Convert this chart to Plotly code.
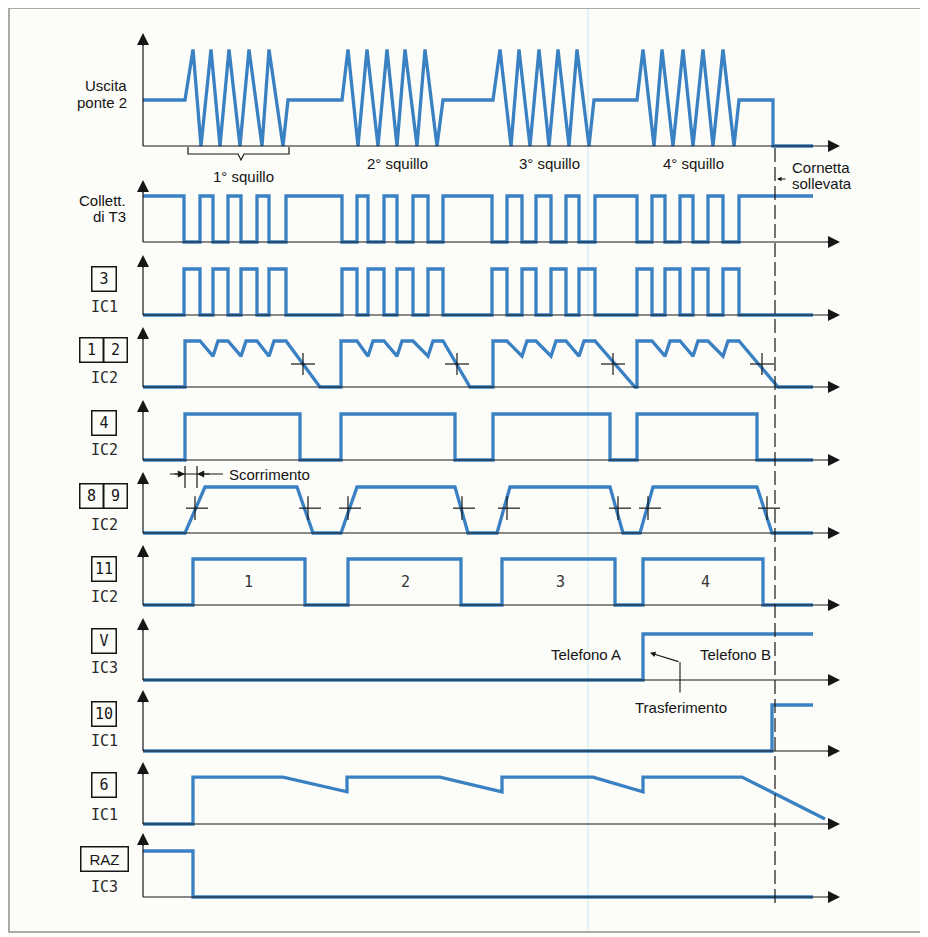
import plotly.graph_objects as go

# The page body adds an 8px margin, so the figure is drawn 8px smaller and all
# layout positions below are given in window pixels and shifted back by OX/OY.
OX, OY = 8, 8
W, H = 920, 929
S = 46.0            # pixels per signal level unit
BLUE = '#3a81c3'
INK = '#161616'
TXT = '#141414'
SANS = 'Liberation Sans, Arial, sans-serif'
MONO = 'DejaVu Sans Mono, monospace'

# ------------------------------------------------------------------ data
# time axis in arbitrary units (t), signal levels in units of the logic amplitude
ponte_t = [0,
           42, 50, 58, 68, 77, 86, 97, 106, 119, 126, 140, 145,
           199, 205, 215, 224, 235, 244, 254, 262, 274, 282, 294, 300,
           350, 357, 368, 376, 387, 396, 406, 415, 426, 434, 446, 451,
           494, 500, 511, 519, 530, 540, 550, 560, 570, 580, 591, 596,
           630, 630, 670]
ponte_v = [1,
           1, 2.1, 0, 2.1, 0, 2.1, 0, 2.1, 0, 2.1, 0, 1,
           1, 2.1, 0, 2.1, 0, 2.1, 0, 2.1, 0, 2.1, 0, 1,
           1, 2.1, 0, 2.1, 0, 2.1, 0, 2.1, 0, 2.1, 0, 1,
           1, 2.1, 0, 2.1, 0, 2.1, 0, 2.1, 0, 2.1, 0, 1,
           1, 0, 0]

# pin 3 IC1 pulses (collector of T3 is the complement)
pulse_on = [41, 70, 98, 126, 199, 225, 254, 285, 349, 379, 408, 436, 494, 522, 550, 580]
pulse_off = [57, 85, 114, 143, 214, 241, 270, 300, 364, 393, 423, 452, 509, 537, 565, 596]
t_end = 670

# pins 1-2 IC2 (capacitor voltage)
ic2_12_t = [0, 42, 42, 57, 70, 75, 85, 98, 103, 114, 126, 131, 143, 177,
            198, 198, 214, 225, 230, 241, 254, 259, 270, 285, 290, 300, 327,
            350, 350, 364, 379, 384, 393, 408, 413, 423, 436, 441, 452, 492,
            494, 494, 509, 522, 527, 537, 550, 555, 565, 580, 585, 596, 635, 670]
ic2_12_v = [0, 0, 1, 1, 0.67, 1, 1, 0.67, 1, 1, 0.67, 1, 1, 0,
            0, 1, 1, 0.67, 1, 1, 0.67, 1, 1, 0.67, 1, 1, 0,
            0, 1, 1, 0.67, 1, 1, 0.67, 1, 1, 0.67, 1, 1, 0,
            0, 1, 1, 0.67, 1, 1, 0.67, 1, 1, 0.67, 1, 1, 0, 0]
cross_12_t = [160, 314, 470, 619]
cross_12_v = 0.5

# pin 4 IC2
ic2_4_on = [42, 198, 350, 494]
ic2_4_off = [157, 312, 467, 614]

# pins 8-9 IC2
ic2_89_t = [0, 42, 62, 154, 170, 198, 214, 312, 325, 354, 367, 467, 480, 497, 510, 614, 629, 670]
ic2_89_v = [0, 0, 1, 1, 0, 0, 1, 1, 0, 0, 1, 1, 0, 0, 1, 1, 0, 0]
cross_89_t = [52, 165, 205, 319, 364, 475, 505, 624]
cross_89_v = 0.54

# pin 11 IC2
ic2_11_on = [50, 205, 359, 500]
ic2_11_off = [162, 318, 472, 620]
ring_numbers = ['1', '2', '3', '4']
ring_number_t = [105, 262, 417, 562]

# pin V IC3
ic3_v_t = [0, 500, 500, 670]
ic3_v_v = [0, 0, 1, 1]

# pin 10 IC1
ic1_10_t = [0, 629, 629, 670]
ic1_10_v = [0, 0, 1, 1]

# pin 6 IC1
ic1_6_t = [0, 50, 50, 140, 204, 204, 297, 359, 359, 450, 500, 500, 599, 682]
ic1_6_v = [0, 0, 1.02, 1.02, 0.70, 1.02, 1.02, 0.70, 1.02, 1.02, 0.70, 1.02, 1.02, 0.11]

# RAZ IC3
ic3_raz_t = [0, 50, 50, 670]
ic3_raz_v = [1, 1, 0, 0]

squillo_text = ['1° squillo', '2° squillo', '3° squillo', '4° squillo']
squillo_t = [100, 254, 406, 550]
t_hook = 632          # handset lifted
t_transfer = 500


# ------------------------------------------------------------------ helpers
def pulses(on, off, end, start_level):
    t, v = [0], [start_level]
    hi, lo = (1, 0) if start_level == 0 else (0, 1)
    for a, b in zip(on, off):
        t += [a, a, b, b]
        v += [lo, hi, hi, lo]
    t.append(end)
    v.append(v[-1])
    return t, v


t3, v3 = pulses(pulse_on, pulse_off, t_end, 0)
t2, v2 = pulses(pulse_on, pulse_off, t_end, 1)
t4, v4 = pulses(ic2_4_on, ic2_4_off, t_end, 0)
t11, v11 = pulses(ic2_11_on, ic2_11_off, t_end, 0)

# layout geometry: (baseline px, arrow tip px) in window pixels
ROWS = [(146, 33), (242, 180), (315, 255), (387, 327), (460, 400), (533, 472),
        (605, 545), (680, 618), (751, 690), (824, 762), (897, 833)]
signals = [(ponte_t, ponte_v), (t2, v2), (t3, v3), (ic2_12_t, ic2_12_v), (t4, v4),
           (ic2_89_t, ic2_89_v), (t11, v11), (ic3_v_t, ic3_v_v), (ic1_10_t, ic1_10_v),
           (ic1_6_t, ic1_6_v), (ic3_raz_t, ic3_raz_v)]

X0PX = 143            # window px of t = 0
XTIP = 697            # axis arrow tip (t)


def px(p):
    return (p - OX) / W


def py(p):
    return 1 - (p - OY) / H


def yid(i):
    return 'y' if i == 0 else f'y{i+1}'


fig = go.Figure()
layout = dict(
    width=W, height=H, autosize=False,
    margin=dict(l=0, r=0, t=0, b=0),
    paper_bgcolor='#fcfcf9', plot_bgcolor='rgba(0,0,0,0)',
    showlegend=False, hovermode=False,
    xaxis=dict(domain=[px(X0PX - 10), px(X0PX + 705)], range=[-10, 705],
               visible=False, fixedrange=True),
)
for i, (yb, yt) in enumerate(ROWS):
    bot, top = yb + 16, yt - 8
    key = 'yaxis' if i == 0 else f'yaxis{i+1}'
    layout[key] = dict(domain=[py(bot), py(top)], range=[-(bot - yb) / S, (yb - top) / S],
                       visible=False, anchor='x', fixedrange=True)

shapes = []
annotations = []

# frame and faint scan crease
shapes.append(dict(type='rect', xref='paper', yref='paper', x0=px(9), x1=px(924),
                   y0=py(932), y1=py(8), line=dict(color='#8e8e8e', width=1.5), layer='below'))
shapes.append(dict(type='line', xref='paper', yref='paper', x0=px(588), x1=px(588),
                   y0=py(9), y1=py(931), line=dict(color='rgba(160,215,235,0.55)', width=1),
                   layer='below'))

# axes with arrows
for i, (yb, yt) in enumerate(ROWS):
    y = yid(i)
    tip = (yb - yt) / S
    shapes.append(dict(type='line', xref='x', yref=y, x0=0, x1=XTIP - 4, y0=0, y1=0,
                       line=dict(color=INK, width=1.2)))
    shapes.append(dict(type='line', xref='x', yref=y, x0=0, x1=0, y0=0, y1=tip - 0.1,
                       line=dict(color=INK, width=1.2)))
    annotations.append(dict(x=XTIP, y=0, xref='x', yref=y, axref='pixel', ayref='pixel',
                            ax=-14, ay=0, text='', showarrow=True, arrowhead=2,
                            arrowsize=2.0, arrowwidth=1.2, arrowcolor=INK))
    annotations.append(dict(x=0, y=tip, xref='x', yref=y, axref='pixel', ayref='pixel',
                            ax=0, ay=14, text='', showarrow=True, arrowhead=2,
                            arrowsize=2.0, arrowwidth=1.2, arrowcolor=INK))

# signals
for i, (t, v) in enumerate(signals):
    fig.add_trace(go.Scatter(x=t, y=v, xaxis='x', yaxis=yid(i), mode='lines',
                             line=dict(color=BLUE, width=3.3), hoverinfo='skip'))

# crosses (threshold marks)
for tc in cross_12_t:
    shapes.append(dict(type='line', xref='x', yref='y4', x0=tc - 12, x1=tc + 12,
                       y0=cross_12_v, y1=cross_12_v, line=dict(color=INK, width=1.2)))
    shapes.append(dict(type='line', xref='x', yref='y4', x0=tc, x1=tc,
                       y0=cross_12_v - 0.24, y1=cross_12_v + 0.24, line=dict(color=INK, width=1.2)))
for tc in cross_89_t:
    shapes.append(dict(type='line', xref='x', yref='y6', x0=tc - 9, x1=tc + 13,
                       y0=cross_89_v, y1=cross_89_v, line=dict(color=INK, width=1.2)))
    shapes.append(dict(type='line', xref='x', yref='y6', x0=tc, x1=tc,
                       y0=cross_89_v - 0.26, y1=cross_89_v + 0.26, line=dict(color=INK, width=1.2)))

# dashed line: handset lifted
shapes.append(dict(type='line', xref='x', yref='paper', x0=t_hook, x1=t_hook,
                   y0=py(148), y1=py(905), line=dict(color=INK, width=1.2, dash='14px,5px')))

# bracket under first ring
b0, b1, bm = 45, 146, 98
path = (f'M {b0},{py(147)} L {b0},{py(154)} L {bm-3},{py(154)} L {bm},{py(160)} '
        f'L {bm+3},{py(154)} L {b1},{py(154)} L {b1},{py(147)}')
shapes.append(dict(type='path', xref='x', yref='paper', path=path,
                   line=dict(color=INK, width=1.2)))

# Scorrimento marker
for tk in (42, 54):
    shapes.append(dict(type='line', xref='x', yref='paper', x0=tk, x1=tk,
                       y0=py(466), y1=py(488), line=dict(color=INK, width=1.2)))
shapes.append(dict(type='line', xref='x', yref='paper', x0=27, x1=80,
                   y0=py(474), y1=py(474), line=dict(color=INK, width=1.2)))
annotations.append(dict(x=42, y=py(474), xref='x', yref='paper', ax=-12, ay=0,
                        text='', showarrow=True, arrowhead=2, arrowsize=1.2,
                        arrowwidth=1.2, arrowcolor=INK))
annotations.append(dict(x=54, y=py(474), xref='x', yref='paper', ax=14, ay=0,
                        text='', showarrow=True, arrowhead=2, arrowsize=1.2,
                        arrowwidth=1.2, arrowcolor=INK))


def txt(x, y, s, xref='x', size=15, font=SANS, xanchor='center', color=TXT, **kw):
    annotations.append(dict(x=x, y=y, xref=xref, yref='paper', text=s, showarrow=False,
                            xanchor=xanchor, yanchor='middle',
                            font=dict(family=font, size=size, color=color), **kw))


txt(84, py(474), 'Scorrimento', xanchor='left')

# ring labels
for s, tq, yp in zip(squillo_text, squillo_t, [176, 163, 163, 163]):
    txt(tq, py(yp), s)

# Cornetta sollevata
annotations.append(dict(x=t_hook + 2, y=py(179), xref='x', yref='paper', ax=10, ay=0,
                        text='', showarrow=True, arrowhead=2, arrowsize=0.9,
                        arrowwidth=1, arrowcolor=INK))
txt(t_hook + 15, py(167), 'Cornetta', xanchor='left')
txt(t_hook + 15, py(184), 'sollevata', xanchor='left')

# numbers inside pin 11 pulses
for s, tq in zip(ring_numbers, ring_number_t):
    txt(tq, py(582), s, font=MONO, color='#333333')

# Telefono A / B and Trasferimento
txt(443, py(654), 'Telefono A')
txt(592, py(654), 'Telefono B')
txt(538, py(707), 'Trasferimento')
annotations.append(dict(x=t_transfer + 7, y=0.59, xref='x', yref='y8', axref='x', ayref='y8',
                        ax=537, ay=0.39, text='', showarrow=True, arrowhead=2,
                        arrowsize=1.0, arrowwidth=1.1, arrowcolor=INK))
shapes.append(dict(type='line', xref='x', yref='y8', x0=537, x1=537, y0=0.39, y1=-0.27,
                   line=dict(color=INK, width=1.1)))

# left labels
txt(px(129), py(85), 'Uscita', xref='paper', xanchor='right')
txt(px(129), py(102), 'ponte 2', xref='paper', xanchor='right')
txt(px(128), py(200), 'Collett.', xref='paper', xanchor='right')
txt(px(128), py(216), 'di T3', xref='paper', xanchor='right')


def box(xc, yc, s, w=21, font=MONO, size=15):
    annotations.append(dict(x=px(xc), y=py(yc), xref='paper', yref='paper', text=s,
                            showarrow=False, xanchor='center', yanchor='middle',
                            width=w, height=21, borderpad=1, bordercolor=INK, borderwidth=1.5,
                            font=dict(family=font, size=size, color=INK)))


pins = [  # (box entries, chip label, box center y, chip label y)
    ([(104, '3')], 'IC1', 279, 307),
    ([(91, '1'), (115, '2')], 'IC2', 350, 378),
    ([(104, '4')], 'IC2', 423, 450),
    ([(91, '8'), (115, '9')], 'IC2', 496, 525),
    ([(104, '11')], 'IC2', 569, 597),
    ([(104, 'V')], 'IC3', 641, 668),
    ([(104, '10')], 'IC1', 714, 741),
    ([(104, '6')], 'IC1', 785, 815),
]
for boxes, chip, yb_, yc_ in pins:
    for xc, s in boxes:
        box(xc, yb_, s, w=20 if len(boxes) == 2 else 21)
    txt(px(104), py(yc_), chip, xref='paper', font=MONO, color='#2a2a2a')
box(104, 859, 'RAZ', w=44, font=SANS, size=15)
txt(px(104), py(887), 'IC3', xref='paper', font=MONO, color='#2a2a2a')

layout['shapes'] = shapes
layout['annotations'] = annotations
fig.update_layout(**layout)
fig.write_html('out.html', config={'displayModeBar': False, 'staticPlot': True})
